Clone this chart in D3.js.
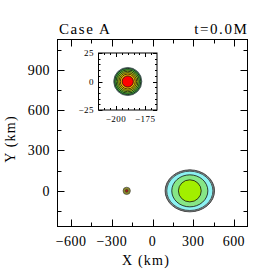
<!DOCTYPE html>
<html>
<head>
<meta charset="utf-8">
<script src="https://cdn.jsdelivr.net/npm/d3@7"></script>
<style>
  html, body { margin: 0; padding: 0; background: #fff; }
  svg { display: block; }
  text { font-family: "Liberation Serif", "Times New Roman", serif; fill: #000; }
</style>
</head>
<body>
<svg id="chart" width="270" height="270"></svg>
<script>
// --- data ---
const titleLeft = "Case A";
const titleRight = "t=0.0M";
const xLabel = "X (km)";
const yLabel = "Y (km)";

// main panel ticks (km)
const xMajorTicks = [-600, -300, 0, 300, 600];
const xMinorTicks = [-450, -150, 150, 450];
const yMajorTicks = [0, 300, 600, 900];
const yMinorTicks = [-150, 150, 450, 750, 1050];

// inset panel ticks (km)
const insetXMajor = [-200, -175];
const insetXMinor = [-210, -205, -195, -190, -185, -180, -170];
const insetYMajor = [-25, 0, 25];
const insetYMinor = [-20, -15, -10, -5, 5, 10, 15, 20];

// big star contours (outer -> inner), semi-axes in km
const bigStarCenter = [275, 0];
const bigStarRx = [182, 178, 170, 133, 84];
const bigStarRy = [156, 153, 146, 119, 82];
const bigStarFill = ["#56625f", "#a9bcbc", "#8cf2f2", "#86e686", "#a2ef00"];
const bigStarStroke = ["#2a2a2a", "#555555", "#333333", "#111111", "#111111"];

// small star as drawn in main panel (km)
const smallStarCenter = [-190, 0];
const smallDotR = [27, 10];
const smallDotFill = ["#8a8a2c", "#b41414"];

// small star contours in the inset (outer -> inner), radius in km
const insetR = [12, 11.2, 10, 8.8, 7.6, 6.4, 4.8];
const insetFill = ["#6e9a90", "#3ec43e", "#86d632", "#c6e21a", "#f2d200", "#fbb600", "#ff0000"];

// --- layout ---
const svg = d3.select("#chart");

const x = d3.scaleLinear().domain([-700, 700]).range([57.5, 247.5]);
const y = d3.scaleLinear().domain([-265, 1125]).range([226.5, 39.5]);

const ix = d3.scaleLinear().domain([-215, -165]).range([98.5, 157]);
const iy = d3.scaleLinear().domain([-25, 25]).range([110, 53]);

function drawFrame(sx, sy, majorLen, minorLen, xMaj, xMin, yMaj, yMin) {
  const [x0, x1] = sx.range();
  const [y0, y1] = sy.range(); // y0 bottom, y1 top
  const g = svg.append("g").attr("stroke", "#000").attr("stroke-width", 1).attr("fill", "none");

  g.append("rect")
    .attr("x", x0).attr("y", y1)
    .attr("width", x1 - x0).attr("height", y0 - y1);

  const xt = xMaj.map((v) => [v, majorLen]).concat(xMin.map((v) => [v, minorLen]));
  const yt = yMaj.map((v) => [v, majorLen]).concat(yMin.map((v) => [v, minorLen]));

  xt.forEach(([v, len]) => {
    const px = Math.round(sx(v)) + 0.5;
    g.append("line").attr("x1", px).attr("x2", px).attr("y1", y0).attr("y2", y0 - len);
    g.append("line").attr("x1", px).attr("x2", px).attr("y1", y1).attr("y2", y1 + len);
  });
  yt.forEach(([v, len]) => {
    const py = Math.round(sy(v)) + 0.5;
    g.append("line").attr("y1", py).attr("y2", py).attr("x1", x0).attr("x2", x0 + len);
    g.append("line").attr("y1", py).attr("y2", py).attr("x1", x1).attr("x2", x1 - len);
  });
}

function fmt(v) {
  return v < 0 ? "\u2212" + Math.abs(v) : String(v);
}

// --- big star ---
const bigG = svg.append("g");
bigStarRx.forEach((rx, i) => {
  bigG.append("ellipse")
    .attr("cx", x(bigStarCenter[0]))
    .attr("cy", y(bigStarCenter[1]))
    .attr("rx", x(bigStarCenter[0] + rx) - x(bigStarCenter[0]))
    .attr("ry", y(bigStarCenter[1]) - y(bigStarCenter[1] + bigStarRy[i]))
    .attr("fill", bigStarFill[i])
    .attr("stroke", bigStarStroke[i])
    .attr("stroke-width", 0.8);
});

// --- small star in main panel ---
smallDotR.forEach((r, i) => {
  svg.append("circle")
    .attr("cx", x(smallStarCenter[0]))
    .attr("cy", y(smallStarCenter[1]))
    .attr("r", x(smallStarCenter[0] + r) - x(smallStarCenter[0]))
    .attr("fill", smallDotFill[i])
    .attr("stroke", "#333")
    .attr("stroke-width", 0.6);
});

// main frame + ticks
drawFrame(x, y, 7, 4, xMajorTicks, xMinorTicks, yMajorTicks, yMinorTicks);

// main tick labels
svg.append("g").selectAll("text")
  .data(xMajorTicks).enter().append("text")
  .attr("x", (d) => x(d))
  .attr("y", 246)
  .attr("text-anchor", "middle")
  .attr("font-size", 14)
  .attr("letter-spacing", 0.4)
  .text(fmt);

svg.append("g").selectAll("text")
  .data(yMajorTicks).enter().append("text")
  .attr("x", 50)
  .attr("y", (d) => y(d))
  .attr("dy", "0.35em")
  .attr("text-anchor", "end")
  .attr("font-size", 14)
  .attr("letter-spacing", 0.4)
  .text(fmt);

// titles
svg.append("text")
  .attr("x", 59).attr("y", 34)
  .attr("font-size", 15)
  .attr("letter-spacing", 1.6)
  .text(titleLeft);

svg.append("text")
  .attr("x", 248.5).attr("y", 34)
  .attr("text-anchor", "end")
  .attr("font-size", 15)
  .attr("letter-spacing", 1.6)
  .text(titleRight);

// axis labels
svg.append("text")
  .attr("x", 146).attr("y", 265)
  .attr("text-anchor", "middle")
  .attr("font-size", 14)
  .attr("letter-spacing", 1.2)
  .text(xLabel);

svg.append("text")
  .attr("transform", "translate(15,139) rotate(-90)")
  .attr("text-anchor", "middle")
  .attr("font-size", 14)
  .attr("letter-spacing", 1.2)
  .text(yLabel);

// --- inset ---
svg.append("rect")
  .attr("x", ix.range()[0]).attr("y", iy.range()[1])
  .attr("width", ix.range()[1] - ix.range()[0])
  .attr("height", iy.range()[0] - iy.range()[1])
  .attr("fill", "#fff");

insetR.forEach((r, i) => {
  svg.append("circle")
    .attr("cx", ix(smallStarCenter[0]))
    .attr("cy", iy(smallStarCenter[1]))
    .attr("r", ix(smallStarCenter[0] + r) - ix(smallStarCenter[0]))
    .attr("fill", insetFill[i])
    .attr("stroke", i === 0 ? "#3a4a48" : "#111")
    .attr("stroke-width", 0.8);
});

drawFrame(ix, iy, 4, 2, insetXMajor, insetXMinor, insetYMajor, insetYMinor);

svg.append("g").selectAll("text")
  .data(insetXMajor).enter().append("text")
  .attr("x", (d) => ix(d))
  .attr("y", 121.5)
  .attr("text-anchor", "middle")
  .attr("font-size", 9)
  .attr("letter-spacing", 0.5)
  .text(fmt);

svg.append("g").selectAll("text")
  .data(insetYMajor).enter().append("text")
  .attr("x", 94)
  .attr("y", (d) => iy(d))
  .attr("dy", "0.35em")
  .attr("text-anchor", "end")
  .attr("font-size", 9)
  .attr("letter-spacing", 0.5)
  .text(fmt);
</script>
</body>
</html>
